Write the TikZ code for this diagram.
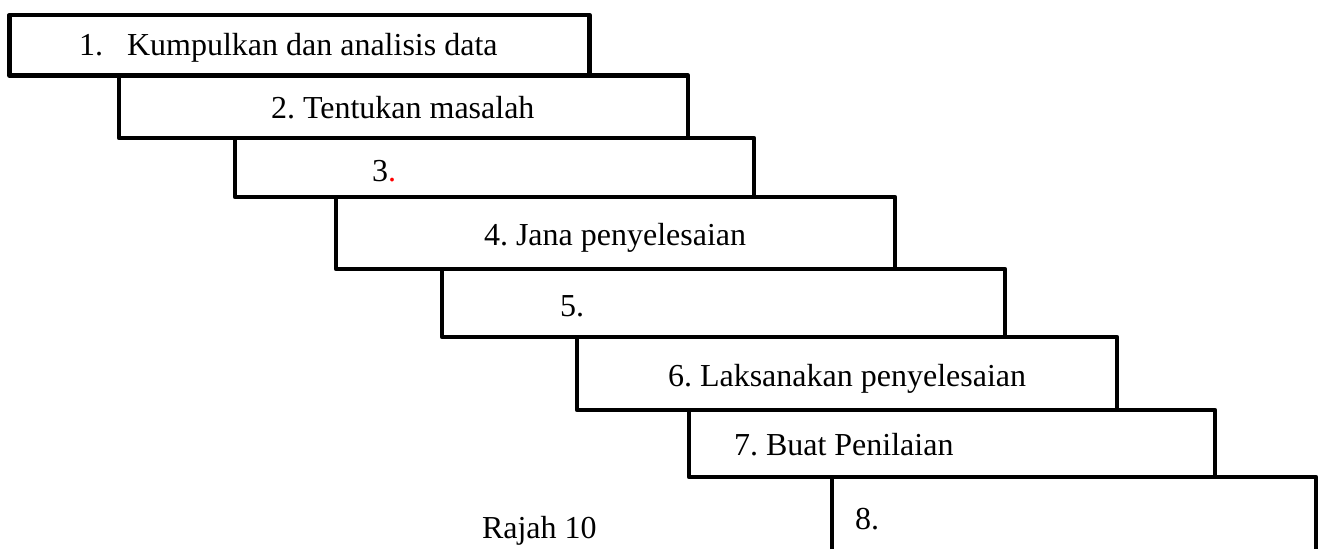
\documentclass[tikz,border=0pt]{standalone}
\usepackage{fontspec}
\setmainfont{Liberation Serif}
\frenchspacing
\begin{document}
\begin{tikzpicture}[x=1pt,y=-1pt,
  stepbox/.style={draw=black, line width=4.8pt, line join=round, fill=none,
    rectangle, inner sep=0pt, outer sep=0pt},
  steptext/.style={anchor=base west, inner sep=0pt, outer sep=0pt,
    font=\fontsize{32}{38}\selectfont, text=black}]
\useasboundingbox (0,0) rectangle (1320,549);

% staircase of steps: \stepat{name}{left}{top}{right}{bottom}
\newcommand\stepat[5]{%
  \node[stepbox, minimum width={#4-#2}, minimum height={#5-#3}]
    (#1) at ({(#2+#4)/2},{(#3+#5)/2}) {};}
\stepat{s1}{9.5}{15}{589.5}{75.5}
\stepat{s2}{119}{75.5}{688}{138}
\stepat{s3}{235}{138}{754}{197}
\stepat{s4}{336}{197}{895}{269}
\stepat{s5}{442}{269}{1005}{337}
\stepat{s6}{577}{337}{1117}{410}
\stepat{s7}{689}{410}{1215}{477}

% last step runs off the lower edge
\coordinate (s8bl) at (832,549);
\coordinate (s8tl) at (832,477);
\coordinate (s8tr) at (1316,477);
\coordinate (s8br) at (1316,549);
\draw[line width=4.8pt, line join=round] (s8bl) -- (s8tl) -- (s8tr) -- (s8br);

% step labels
\node[steptext] (t1) at (79,55) {1.\hspace{24pt}Kumpulkan dan analisis data};
\node[steptext] (t2) at (271,118) {2. Tentukan masalah};
\node[steptext] (t3) at (372,181) {3\textcolor{red}{.}};
\node[steptext] (t4) at (484,245) {4. Jana penyelesaian};
\node[steptext] (t5) at (560,316) {5.};
\node[steptext] (t6) at (668,386) {6. Laksanakan penyelesaian};
\node[steptext] (t7) at (734,455) {7. Buat Penilaian};
\node[steptext] (t8) at (855,529) {8.};

% caption
\node[steptext] (cap) at (482,538) {Rajah 10};
\end{tikzpicture}
\end{document}
